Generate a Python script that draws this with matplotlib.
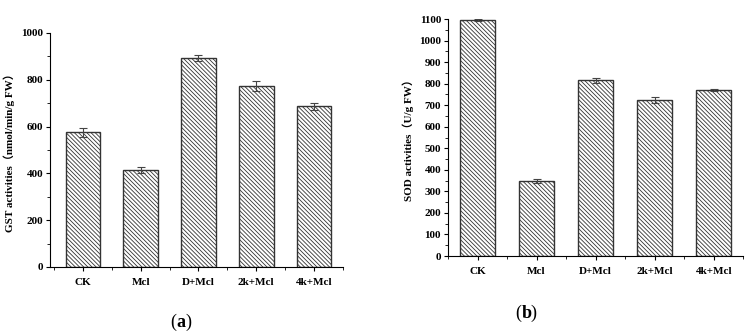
import numpy as np
import matplotlib
matplotlib.use('Agg')
import matplotlib.pyplot as plt
from matplotlib.ticker import MultipleLocator

plt.rcParams['font.family'] = ['Liberation Serif', 'Noto Sans CJK SC']
plt.rcParams['hatch.linewidth'] = 0.6
plt.rcParams['hatch.color'] = '#333333'

groups = ['CK', 'Mcl', 'D+Mcl', '2k+Mcl', '4k+Mcl']
gst = [575, 415, 892, 775, 686]
gst_err = [20, 14, 12, 22, 14]
sod = [1095, 348, 815, 722, 772]
sod_err = [4, 11, 12, 14, 5]

fig = plt.figure(figsize=(7.53, 3.34), dpi=100)

def draw(ax, vals, errs, ylim, major, minor, ylabel, xlim):
    x = np.arange(1, len(groups) + 1)
    ax.bar(x, vals, width=0.6, color='white', edgecolor='#333333',
           hatch='\\' * 8, linewidth=1.0, zorder=2)
    ax.errorbar(x, vals, yerr=errs, fmt='none', ecolor='#444444',
                elinewidth=0.8, capsize=3, capthick=0.8, zorder=3)
    ax.set_xlim(*xlim)
    ax.set_ylim(*ylim)
    ax.set_xticks(x)
    ax.set_xticklabels(groups, fontweight='bold', fontsize=8)
    ax.xaxis.set_minor_locator(MultipleLocator(0.5))
    ax.yaxis.set_major_locator(MultipleLocator(major))
    ax.yaxis.set_minor_locator(MultipleLocator(minor))
    for lab in ax.get_yticklabels():
        lab.set_fontweight('bold')
        lab.set_fontsize(8)
    ax.spines['top'].set_visible(False)
    ax.spines['right'].set_visible(False)
    ax.tick_params(direction='out', length=3, width=0.8, pad=2)
    ax.tick_params(axis='x', pad=5)
    ax.tick_params(which='minor', direction='out', length=2, width=0.6)
    ax.set_ylabel(ylabel, fontweight='bold', fontsize=8, labelpad=4)

ax1 = fig.add_axes([0.0664, 0.2006, 0.389, 0.7006])
draw(ax1, gst, gst_err, (0, 1000), 200, 100,
     'GST activities（nmol/min/g FW）', (0.43, 5.5))
ax2 = fig.add_axes([0.595, 0.2335, 0.392, 0.7096])
draw(ax2, sod, sod_err, (0, 1100), 100, 50,
     'SOD activities（U/g FW）', (0.5, 5.5))

fig.text(0.2337, 0.01, '(', fontsize=13, ha='right', va='bottom')
fig.text(0.2337, 0.01, 'a', fontsize=13, fontweight='bold', ha='left', va='bottom')
fig.text(0.2337 + 0.012, 0.01, ')', fontsize=13, ha='left', va='bottom')
fig.text(0.6925, 0.035, '(', fontsize=13, ha='right', va='bottom')
fig.text(0.6925, 0.035, 'b', fontsize=13, fontweight='bold', ha='left', va='bottom')
fig.text(0.6925 + 0.0125, 0.035, ')', fontsize=13, ha='left', va='bottom')

fig.savefig('out.png', dpi=100)
